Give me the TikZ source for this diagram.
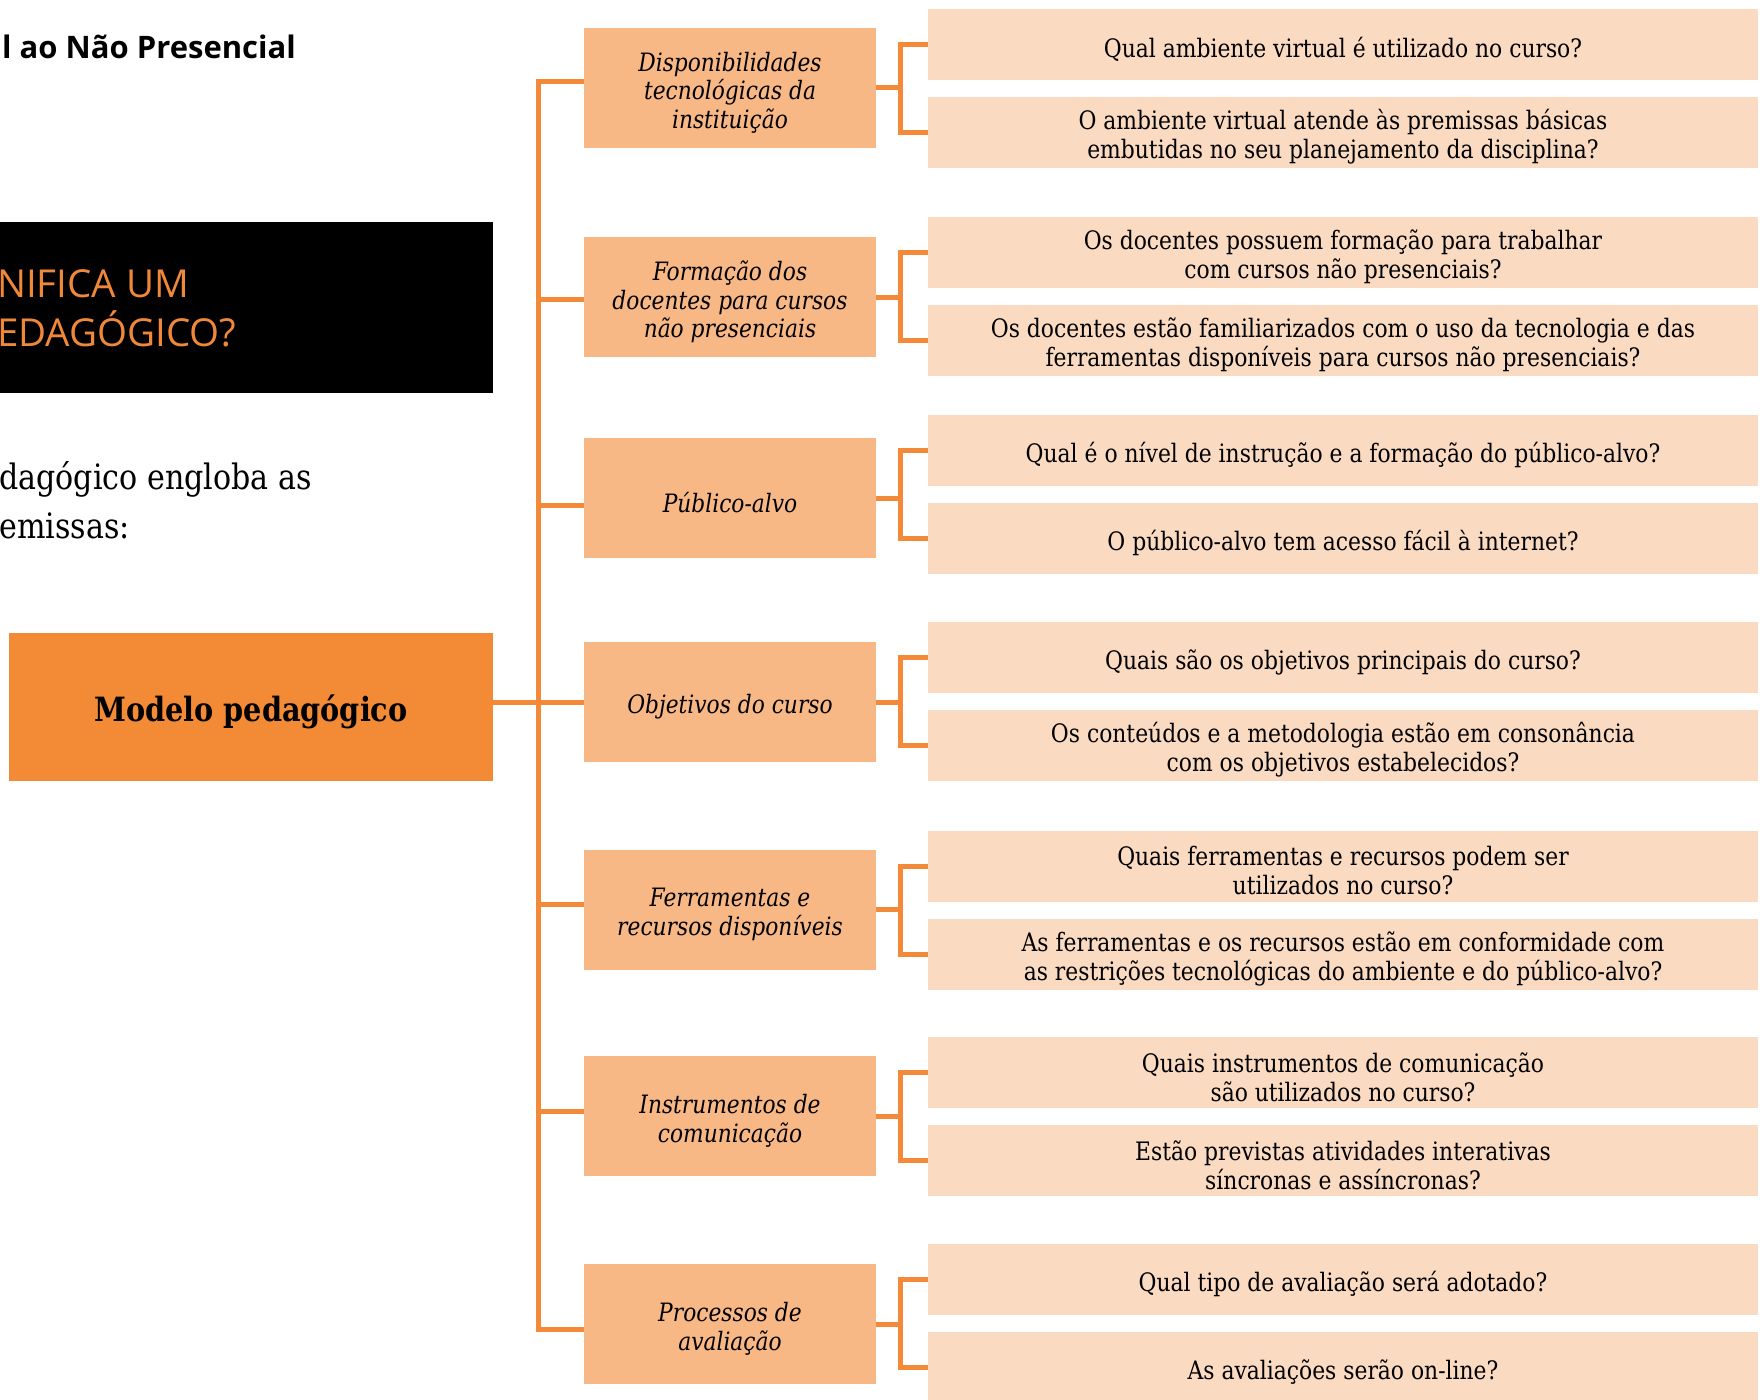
\documentclass[tikz,border=0pt]{standalone}
\usepackage{fontspec}
\usetikzlibrary{calc}
\setmainfont[FakeStretch=0.86]{DejaVu Serif}
\newfontfamily\osans{Open Sans}
\definecolor{lineor}{HTML}{F4893A}
\definecolor{modelor}{HTML}{F38A36}
\definecolor{midfill}{HTML}{F8B886}
\definecolor{qfill}{HTML}{FADBC2}
\definecolor{titor}{HTML}{F0883A}
\newcommand\midnode[3]{%
  \node[midbox] (#1) at (730,#2) {};
  \node[midtxt] (#1t) at ([yshift=-5pt]#1.center) {#3};}
\newcommand\qnode[3]{%
  \node[qbox] (#1) at (1343,#2) {};
  \node[qtxt] (#1t) at ([yshift=-4.5pt]#1.center) {#3};}
\begin{document}
\begin{tikzpicture}[x=1pt,y=-1pt,
  line/.style={draw=lineor, line width=5pt},
  midbox/.style={fill=midfill, minimum width=292pt, minimum height=120pt, inner sep=0pt},
  midtxt/.style={inner sep=0pt, align=center, font=\fontsize{25.3}{28.6}\selectfont\itshape},
  qbox/.style={fill=qfill, minimum width=830pt, minimum height=71pt, inner sep=0pt},
  qtxt/.style={inner sep=0pt, align=center, font=\fontsize{25.4}{29}\selectfont},
  plain/.style={inner sep=0pt, anchor=base west}]
\useasboundingbox (0,0) rectangle (1762,1400);
\clip (0,0) rectangle (1762,1400);

% left column
\node[plain, anchor=base east, font=\osans\bfseries\fontsize{31}{38}\selectfont] (title) at (296,58) {l ao Não Presencial};
\node[fill=black, minimum width=493pt, minimum height=171pt, inner sep=0pt] (bb) at (246.5,307.5) {};
\node[plain, text=titor, font=\osans\fontsize{38.5}{44}\selectfont] (h1) at (-3,297) {NIFICA UM};
\node[plain, text=titor, font=\osans\fontsize{38.5}{44}\selectfont] (h2) at (-3,346) {EDAGÓGICO?};
\node[plain, font=\fontsize{35}{49}\selectfont] (p1) at (-1,489) {dagógico engloba as};
\node[plain, font=\fontsize{35}{49}\selectfont] (p2) at (-1,538) {emissas:};
\node[fill=modelor, minimum width=484pt, minimum height=148pt, inner sep=0pt] (model) at (251,707) {};
\node[inner sep=0pt, font=\fontsize{33.4}{38}\selectfont\bfseries] (modelt) at ([yshift=-5pt]model.center) {Modelo pedagógico};

% middle column
\midnode{m1}{87.5}{Disponibilidades\\tecnológicas da\\instituição}
\midnode{m2}{297}{Formação dos\\docentes para cursos\\não presenciais}
\midnode{m3}{498}{Público-alvo}
\midnode{m4}{702}{Objetivos do curso}
\midnode{m5}{909.5}{Ferramentas e\\recursos disponíveis}
\midnode{m6}{1116}{Instrumentos de\\comunicação}
\midnode{m7}{1324}{Processos de\\avaliação}

% right column
\qnode{q1a}{44.5}{Qual ambiente virtual é utilizado no curso?}
\qnode{q1b}{132.5}{O ambiente virtual atende às premissas básicas\\embutidas no seu planejamento da disciplina?}
\qnode{q2a}{252.5}{Os docentes possuem formação para trabalhar\\com cursos não presenciais?}
\qnode{q2b}{340.5}{Os docentes estão familiarizados com o uso da tecnologia e das\\ferramentas disponíveis para cursos não presenciais?}
\qnode{q3a}{450.5}{Qual é o nível de instrução e a formação do público-alvo?}
\qnode{q3b}{538.5}{O público-alvo tem acesso fácil à internet?}
\qnode{q4a}{657.5}{Quais são os objetivos principais do curso?}
\qnode{q4b}{745.5}{Os conteúdos e a metodologia estão em consonância\\com os objetivos estabelecidos?}
\qnode{q5a}{866.5}{Quais ferramentas e recursos podem ser\\utilizados no curso?}
\qnode{q5b}{954.5}{As ferramentas e os recursos estão em conformidade com\\as restrições tecnológicas do ambiente e do público-alvo?}
\qnode{q6a}{1072.5}{Quais instrumentos de comunicação\\são utilizados no curso?}
\qnode{q6b}{1160.5}{Estão previstas atividades interativas\\síncronas e assíncronas?}
\qnode{q7a}{1279.5}{Qual tipo de avaliação será adotado?}
\qnode{q7b}{1367.5}{As avaliações serão on-line?}

% trunk and branches
\coordinate (tbot) at (538.5,1329);
\draw[line] ([yshift=6.5pt]m1.west) -| (tbot) -- ([yshift=-5pt]m7.west);
\draw[line] ([yshift=-2pt]m2.west) -- ++(-45.5,0);
\draw[line] ([yshift=-7pt]m3.west) -- ++(-45.5,0);
\draw[line] ([yshift=5pt]model.east) -- (m4.west);
\draw[line] ([yshift=5.5pt]m5.west) -- ++(-45.5,0);
\draw[line] ([yshift=5pt]m6.west) -- ++(-45.5,0);

% brackets
\foreach \i in {1,...,7}{
  \draw[line] (m\i.east) -- ++(24,0);
  \draw[line] (q\i a.west) -| ($(m\i.east)+(24,0)$) |- (q\i b.west);
}
\end{tikzpicture}
\end{document}
